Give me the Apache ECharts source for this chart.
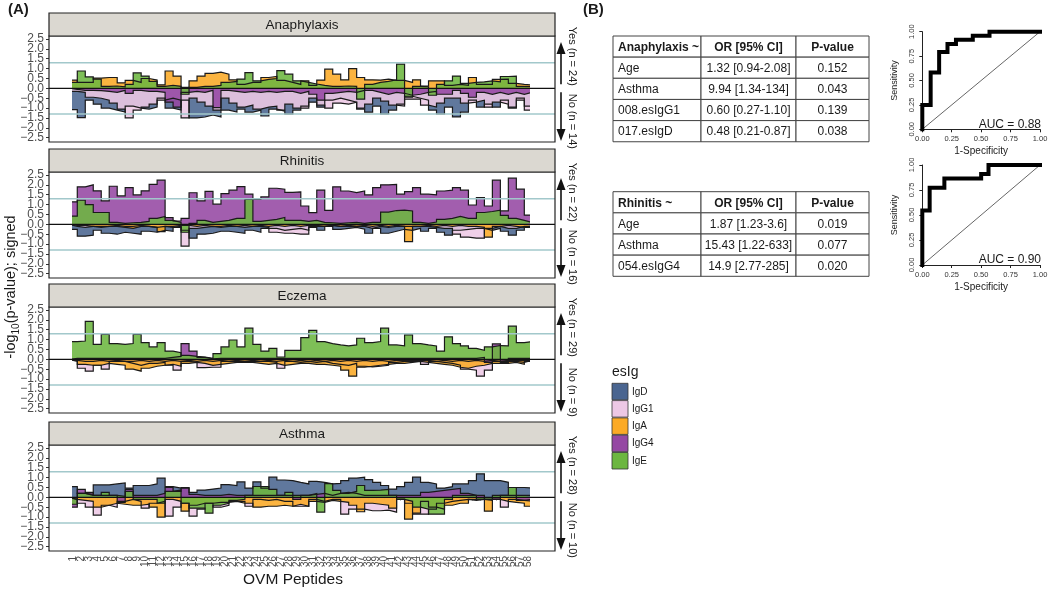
<!DOCTYPE html>
<html><head><meta charset="utf-8">
<script src="https://cdn.jsdelivr.net/npm/echarts@6/dist/echarts.min.js"></script>
<style>html,body{margin:0;padding:0;background:#fff}#c{width:1050px;height:595px}</style>
</head><body><div id="c"></div>
<script>
// ---------------- DATA ----------------
const peptides = [1,2,3,4,5,6,7,8,9,10,11,12,13,14,15,16,17,18,19,20,21,22,23,24,25,26,27,28,29,30,31,32,33,34,35,36,37,38,39,40,41,42,43,44,45,46,47,48,49,50,51,52,53,54,55,56,57,58];
const isotypes = ['IgD','IgG1','IgA','IgG4','IgE'];
const isoColors = ['#4a6590','#edc8e5','#fbaa26','#9548a3','#6cb640'];
const panelNames = ['Anaphylaxis','Rhinitis','Eczema','Asthma'];
const nYes = [24,22,29,28];
const nNo = [14,16,9,10];
const yTicks = [-2.5,-2,-1.5,-1,-0.5,0,0.5,1,1.5,2,2.5];
const threshold = 1.3;

const anaIgD = [-1.08,-1.48,-0.6,-0.8,-1.0,-1.1,-1.2,-0.9,-1.0,-1.05,
 -0.95,-0.5,-1.0,-1.1,-0.6,-1.5,-1.45,-1.35,-1.45,-1.1,
 -1.2,-1.05,-1.2,-1.1,-1.4,-1.05,-1.15,-1.3,-1.1,-0.9,
 -0.7,-0.95,-0.6,-0.5,-0.6,-0.7,-1.05,-1.2,-0.9,-1.3,
 -1.1,-0.8,-0.4,-0.5,-0.6,-1.1,-1.3,-0.95,-1.45,-1.2,
 -0.6,-0.95,-0.8,-0.95,-0.6,-1.0,-0.5,-0.9];
const anaIgG1 = [-0.15,-0.2,-0.45,-0.5,-0.6,-0.75,-1.05,-1.5,-1.1,-0.95,
 -0.8,-0.6,-0.5,-0.6,-1.5,-0.5,-0.7,-0.9,-1.1,-0.5,
 -0.75,-0.95,-0.85,-1.05,-0.95,-0.9,-1.1,-0.8,-1.0,-1.0,
 -0.5,-0.85,-1.0,-0.75,-0.8,-0.7,-1.0,-0.8,-0.5,-0.65,
 -0.85,-0.9,-0.55,-0.55,-0.85,-0.95,-0.75,-0.5,-0.5,-0.75,
 -0.7,-0.6,-0.95,-0.7,-0.8,-0.95,-0.6,-1.1];
const anaIgA = [0.42,0.3,0.3,0.52,0.55,0.55,0.28,0.4,0.3,0.5,
 0.42,0.18,0.88,0.62,0.05,0.38,0.62,0.76,0.82,0.72,
 0.43,0.2,0.3,0.3,0.55,0.6,0.4,0.3,0.2,0.38,
 0.15,0.42,0.97,0.72,0.43,1.0,0.55,0.43,0.42,0.47,
 0.4,0.4,0.3,0.43,0.12,0.38,0.38,0.15,0.2,0.15,
 0.55,0.2,0.2,0.45,0.47,0.25,0.2,0.17];
const anaIgG4 = [-0.05,-0.1,-0.1,-0.12,-0.15,-0.2,-0.1,-0.25,-0.1,-0.15,
 -0.15,-0.2,-0.7,-0.95,-0.2,-0.15,-0.2,-0.1,-0.98,-0.1,
 -0.15,-0.2,-0.15,-0.2,-0.15,-0.2,-0.15,-0.15,-0.25,-0.15,
 -0.3,-0.6,-0.25,-0.2,-0.15,-0.2,-0.1,-0.1,-0.2,-0.3,
 -0.2,-0.25,-0.35,-0.3,-0.2,-0.15,-0.3,-0.3,-0.1,-0.25,
 -0.45,-0.2,-0.3,-0.2,-0.3,-0.2,-0.3,-0.2];
const anaIgE = [0.3,0.88,0.58,0.47,0.1,0.12,0.08,0.2,0.78,0.62,
 0.35,0.1,0.15,0.1,-0.3,0.05,0.1,0.1,0.15,0.3,
 0.35,0.47,0.8,0.38,0.45,0.5,0.9,0.72,0.38,0.3,
 0.22,0.15,0.1,0.1,0.12,0.1,-0.55,0.2,0.3,0.35,
 0.43,1.23,-0.45,0.1,0.08,-0.35,0.2,0.38,0.62,0.25,
 0.3,0.33,0.38,0.33,0.6,0.62,0.1,0.08];

const rhiIgD = [-0.25,-0.6,-0.55,-0.3,-0.45,-0.5,-0.4,-0.45,-0.5,-0.35,
 -0.4,-0.3,-0.35,-0.15,-0.3,-0.7,-0.5,-0.45,-0.35,-0.35,
 -0.4,-0.45,-0.3,-0.4,-0.2,-0.2,-0.3,-0.25,-0.2,-0.3,
 -0.15,-0.3,-0.1,-0.25,-0.2,-0.15,-0.25,-0.45,-0.2,-0.45,
 -0.35,-0.25,-0.3,-0.2,-0.35,-0.2,-0.4,-0.55,-0.3,-0.25,
 -0.2,-0.2,-0.3,-0.2,-0.35,-0.55,-0.3,-0.15];
const rhiIgG1 = [-0.1,-0.15,-0.1,-0.1,-0.1,-0.05,-0.1,-0.1,-0.05,-0.1,
 -0.15,-0.1,-0.15,-0.1,-1.1,-0.2,-0.15,-0.1,-0.15,-0.1,
 -0.1,-0.15,-0.1,-0.1,-0.15,-0.4,-0.45,-0.45,-0.5,-0.5,
 -0.1,-0.1,-0.05,-0.1,-0.1,-0.1,-0.1,-0.2,-0.1,-0.15,
 -0.1,-0.1,-0.1,-0.1,-0.1,-0.15,-0.2,-0.2,-0.5,-0.65,
 -0.7,-0.7,-0.2,-0.1,-0.2,-0.2,-0.1,-0.1];
const rhiIgA = [-0.05,-0.05,-0.1,-0.15,-0.1,-0.1,-0.15,-0.2,-0.1,-0.1,
 -0.15,-0.37,-0.1,-0.05,-0.05,-0.1,-0.05,-0.1,-0.1,-0.05,
 -0.1,-0.05,-0.1,-0.05,-0.1,-0.05,-0.1,-0.05,-0.1,-0.05,
 -0.05,-0.1,-0.05,-0.1,-0.05,-0.1,-0.05,-0.1,-0.05,-0.1,
 -0.05,-0.1,-0.88,-0.1,-0.05,-0.1,-0.05,-0.1,-0.05,-0.1,
 -0.1,-0.15,-0.65,-0.1,-0.05,-0.1,-0.15,-0.1];
const rhiIgG4 = [1.14,1.9,2.0,1.7,1.19,1.93,1.44,1.86,1.49,1.7,
 2.03,2.24,0.34,0.17,0.3,1.6,1.19,1.67,1.02,1.56,
 1.73,1.91,1.53,1.27,1.39,1.83,1.78,1.62,1.65,0.93,
 0.59,1.73,0.71,1.9,1.69,1.61,1.69,1.49,1.86,2.0,
 2.03,1.53,1.66,1.86,1.53,1.49,1.69,1.73,1.86,1.73,
 0.98,1.36,0.93,2.24,0.68,2.34,1.78,0.47];
const rhiIgE = [0.42,1.22,1.0,0.6,0.6,0.1,0.05,0.08,0.1,0.15,
 0.3,0.4,0.2,0.1,-0.4,0.05,0.2,0.1,0.15,0.2,
 0.3,0.3,1.27,0.15,0.2,0.25,0.35,0.2,0.2,0.15,
 0.2,0.1,0.08,0.05,0.08,0.1,0.05,0.1,0.1,0.62,
 0.7,0.72,0.68,0.1,0.05,0.12,0.25,0.3,0.4,0.3,
 0.3,0.6,0.65,0.72,0.45,0.3,0.2,0.1];

const eczIgD = [-0.05,-0.1,-0.1,-0.05,-0.1,-0.05,-0.1,-0.1,-0.05,-0.1,
 -0.05,-0.1,-0.05,-0.1,-0.05,-0.1,-0.05,-0.1,-0.05,-0.1,
 -0.05,-0.1,-0.05,-0.1,-0.05,-0.1,-0.05,-0.1,-0.05,-0.1,
 -0.05,-0.1,-0.05,-0.1,-0.05,-0.1,-0.05,-0.1,-0.05,-0.1,
 -0.05,-0.05,-0.05,-0.05,-0.05,-0.1,-0.05,-0.1,-0.05,-0.1,
 -0.05,-0.1,-0.05,-0.1,-0.05,-0.05,-0.05,-0.05];
const eczIgG1 = [-0.05,-0.45,-0.6,-0.3,-0.5,-0.1,-0.1,-0.2,-0.3,-0.2,
 -0.2,-0.15,-0.3,-0.55,-0.1,-0.15,-0.42,-0.4,-0.4,-0.1,
 -0.1,-0.1,-0.1,-0.1,-0.1,-0.15,-0.45,-0.1,-0.15,-0.1,
 -0.15,-0.1,-0.2,-0.25,-0.3,-0.2,-0.35,-0.38,-0.35,-0.3,
 -0.15,-0.1,-0.1,-0.1,-0.25,-0.1,-0.15,-0.2,-0.3,-0.5,
 -0.55,-0.85,-0.55,-0.1,-0.1,-0.1,-0.15,-0.05];
const eczIgA = [-0.1,-0.25,-0.3,-0.3,-0.2,-0.25,-0.3,-0.5,-0.6,-0.45,
 -0.35,-0.3,-0.25,-0.35,-0.2,-0.15,-0.2,-0.3,-0.25,-0.2,
 -0.15,-0.15,-0.15,-0.2,-0.25,-0.2,-0.3,-0.25,-0.2,-0.2,
 -0.25,-0.25,-0.3,-0.35,-0.55,-0.85,-0.4,-0.35,-0.3,-0.25,
 -0.2,-0.2,-0.15,-0.1,-0.15,-0.2,-0.25,-0.3,-0.4,-0.45,
 -0.35,-0.3,-0.2,-0.2,-0.2,-0.15,-0.25,-0.1];
const eczIgG4 = [0.05,0.05,0.05,0.05,0.05,0.05,0.05,0.05,0.05,0.05,
 0.05,0.05,0.1,0.15,0.8,0.42,0.1,0.03,0.05,0.05,
 0.05,0.05,0.05,0.05,0.05,0.05,0.05,0.05,0.05,0.05,
 0.05,0.05,0.05,0.05,0.05,0.05,0.05,0.05,0.05,0.05,
 0.05,0.05,0.05,0.05,0.05,0.05,0.05,0.05,0.05,0.05,
 0.05,0.1,-0.15,0.78,-0.15,0.05,0.05,0.05];
const eczIgE = [0.9,0.93,1.92,0.76,1.27,0.8,0.76,0.8,1.27,0.85,
 0.63,0.85,0.42,0.34,0.2,0.15,0.12,0.05,0.29,0.63,
 0.98,0.63,1.58,0.76,0.42,0.56,0.12,0.45,0.45,1.1,
 1.47,0.9,0.8,0.73,0.68,0.73,1.07,0.85,0.9,1.58,
 0.73,0.68,1.24,0.8,0.73,0.68,0.42,1.14,0.8,0.68,
 0.56,0.46,0.63,0.7,0.68,1.68,0.85,0.9];

const astIgD = [0.54,0.2,0.15,0.63,0.63,0.68,0.73,0.47,0.6,0.6,
 0.68,0.97,0.54,0.47,0.47,0.25,0.37,0.42,0.47,0.64,
 0.6,0.78,0.47,0.78,0.47,1.02,0.88,0.85,0.76,0.68,
 0.81,0.76,0.68,0.71,0.85,0.97,1.02,0.9,0.76,0.6,
 0.42,0.54,0.76,1.02,0.76,0.68,0.47,0.54,0.68,0.68,
 0.85,1.19,0.85,0.85,0.76,0.5,0.5,0.47];
const astIgG1 = [-0.1,-0.3,-0.5,-0.9,-0.4,-0.5,-0.2,-0.1,-0.2,-0.55,
 -0.3,-0.2,-0.95,-0.5,-0.3,-0.95,-0.6,-0.3,-0.5,-0.4,
 -0.2,-0.2,-0.45,-0.1,-0.15,-0.1,-0.2,-0.2,-0.45,-0.45,
 -0.1,-0.2,-0.1,-0.1,-0.85,-0.6,-0.6,-0.68,-0.68,-0.65,
 -0.75,-0.1,-0.3,-0.85,-0.85,-0.6,-0.3,-0.2,-0.15,-0.1,
 -0.15,-0.1,-0.1,-0.1,-0.5,-0.1,-0.15,-0.1];
const astIgA = [-0.1,-0.15,-0.2,-0.5,-0.4,-0.3,-0.35,-0.4,-0.4,-0.35,
 -0.5,-1.0,-0.1,-0.2,-0.7,-0.4,-0.3,-0.3,-0.25,-0.25,
 -0.2,-0.3,-0.3,-0.5,-0.45,-0.45,-0.4,-0.45,-0.35,-0.45,
 -0.2,-0.25,-0.15,-0.2,-0.25,-0.4,-0.73,-0.3,-0.35,-0.4,
 -0.55,-0.1,-1.1,-0.8,-0.2,-0.5,-0.6,-0.4,-0.3,-0.3,
 -0.1,-0.1,-0.7,-0.1,-0.2,-0.25,-0.3,-0.45];
const astIgG4 = [-0.5,0.4,0.25,0.1,0.1,0.1,-0.25,0.4,0.1,0.1,
 0.1,0.2,0.5,0.3,0.5,0.15,0.1,0.1,0.1,0.15,
 0.1,0.1,0.1,0.1,0.1,0.1,0.1,0.1,-0.1,0.1,
 0.15,0.2,0.1,0.2,0.25,0.2,0.1,0.1,0.1,0.1,
 0.1,0.1,0.1,0.1,0.25,0.3,0.35,0.4,0.45,0.2,
 0.1,0.1,-0.1,-0.1,0.1,0.1,-0.15,-0.2];
const astIgE = [-0.35,0.2,0.1,0.1,0.25,0.1,0.05,0.3,-0.1,-0.1,
 -0.1,-0.3,0.3,0.37,-0.3,-0.55,-0.55,-0.8,-0.4,-0.3,
 -0.15,-0.1,0.1,0.55,0.55,0.4,0.1,0.25,0.1,0.1,
 0.2,-0.75,0.7,0.35,0.2,0.3,0.6,0.35,0.37,0.4,
 0.1,-0.1,-0.2,-0.5,-0.6,-0.85,-0.85,-0.1,0.1,0.1,
 0.1,-0.1,-0.15,0.1,0.1,0.5,0.1,0.1];

// tables
const tab1Head = ['Anaphylaxis ~','OR [95% CI]','P-value'];
const tab1Rows = [['Age','1.32 [0.94-2.08]','0.152'],['Asthma','9.94 [1.34-134]','0.043'],['008.esIgG1','0.60 [0.27-1.10]','0.139'],['017.esIgD','0.48 [0.21-0.87]','0.038']];
const tab2Head = ['Rhinitis ~','OR [95% CI]','P-value'];
const tab2Rows = [['Age','1.87 [1.23-3.6]','0.019'],['Asthma','15.43 [1.22-633]','0.077'],['054.esIgG4','14.9 [2.77-285]','0.020']];

// ROC curves (1-specificity, sensitivity)
const roc1Fpr = [0,0,0.071,0.071,0.143,0.143,0.214,0.214,0.286,0.286,0.429,0.429,0.571,0.571,1];
const roc1Tpr = [0,0.25,0.25,0.583,0.583,0.792,0.792,0.875,0.875,0.917,0.917,0.958,0.958,1,1];
const roc2Fpr = [0,0,0.0625,0.0625,0.1875,0.1875,0.5,0.5,0.5625,0.5625,1];
const roc2Tpr = [0,0.545,0.545,0.773,0.773,0.864,0.864,0.909,0.909,1,1];
const aucLabels = ['AUC = 0.88','AUC = 0.90'];

// ---------------- LAYOUT ----------------
const FONT = "'Liberation Sans', Arial, Helvetica, sans-serif";
const panelData = [
  [anaIgD, anaIgG1, anaIgA, anaIgG4, anaIgE],
  [rhiIgD, rhiIgG1, rhiIgA, rhiIgG4, rhiIgE],
  [eczIgD, eczIgG1, eczIgA, eczIgG4, eczIgE],
  [astIgD, astIgG1, astIgA, astIgG4, astIgE]
];
const PL = 49, PW = 506, SH = 23, PH = 106;     // panel box
const GL = 73.3, GW = 455;                      // data grid (peptide 1 .. 58)
const GTOP = 3, GH = 98.7;                      // grid inside panel (2.5 .. -2.5)
const stripTops = [13, 149, 284, 422];

// step outline: each peptide value held over [p-0.5, p+0.5]
function stepData(vals) {
  const pts = [[peptides[0] - 0.5, 0]];
  vals.forEach((v, i) => { pts.push([peptides[i] - 0.5, v]); pts.push([peptides[i] + 0.5, v]); });
  pts.push([peptides[peptides.length - 1] + 0.5, 0]);
  return pts;
}
const fmtMinus = v => (v < 0 ? '\u2212' : '') + Math.abs(v).toFixed(1);

const grids = [], xAxes = [], yAxes = [], series = [], graphics = [];

function T(x, y, text, o) {
  o = o || {};
  return { type: 'text', x, y, rotation: o.rot || 0, silent: true, z: 100,
    style: { text, fontSize: o.size || 12, fontFamily: FONT, fontWeight: o.weight || 'normal',
      fill: o.color || '#1a1a1a', textAlign: o.align || 'center', textVerticalAlign: o.valign || 'middle',
      align: o.align || 'center', verticalAlign: o.valign || 'middle', rich: o.rich } };
}

panelData.forEach((vals, k) => {
  const ptop = stripTops[k] + SH;
  const gtop = ptop + GTOP;
  grids.push({ left: GL, top: gtop, width: GW, height: GH, show: false, outerBoundsMode: 'none' });
  const last = k === panelData.length - 1;
  xAxes.push({ gridIndex: k, type: 'value', min: 1, max: 58, interval: 1, splitLine: { show: false },
    offset: (ptop + PH) - (gtop + GH),
    axisLine: { show: false },
    axisTick: { show: last, length: 3, lineStyle: { color: '#333', width: 1 } },
    axisLabel: { show: false } });
  yAxes.push({ gridIndex: k, type: 'value', min: -2.5, max: 2.5, interval: 0.5, splitLine: { show: false },
    offset: GL - PL,
    axisLine: { show: false },
    axisTick: { show: true, length: 3, lineStyle: { color: '#333', width: 1 } },
    axisLabel: { show: false } });
  vals.forEach((arr, j) => {
    series.push({ type: 'line', name: isotypes[j], xAxisIndex: k, yAxisIndex: k, data: stepData(arr),
      symbol: 'none', showSymbol: false, silent: true, animation: false, clip: false,
      lineStyle: { color: '#1a1a1a', width: 1.2, join: 'miter' },
      areaStyle: { color: isoColors[j], opacity: 0.88 }, itemStyle: { color: isoColors[j] } });
  });
  // panel border + strip
  graphics.push({ type: 'rect', silent: true, z: 95, shape: { x: PL, y: ptop, width: PW, height: PH },
    style: { fill: 'none', stroke: '#222', lineWidth: 1.2 } });
  graphics.push({ type: 'rect', silent: true, z: 95, shape: { x: PL, y: stripTops[k], width: PW, height: SH },
    style: { fill: '#dbd8d1', stroke: '#222', lineWidth: 1.2 } });
  graphics.push(T(PL + PW / 2, stripTops[k] + SH / 2 + 0.5, panelNames[k], { size: 13.5 }));
});

// ROC grids
const rocGrids = [{ left: 922.3, top: 31.7, width: 117.7, height: 97.6 }, { left: 922.3, top: 165, width: 117.7, height: 100 }];
const rocCurves = [[roc1Fpr, roc1Tpr], [roc2Fpr, roc2Tpr]];
rocGrids.forEach((g, r) => {
  const gi = panelData.length + r;
  grids.push(Object.assign({ outerBoundsMode: 'none', show: false }, g));
  xAxes.push({ gridIndex: gi, type: 'value', min: 0, max: 1, interval: 0.25, offset: 4, splitLine: { show: false },
    axisLine: { show: true, lineStyle: { color: '#222', width: 1 } },
    axisTick: { show: true, length: 3, lineStyle: { color: '#222' } },
    axisLabel: { fontSize: 7.5, fontFamily: FONT, color: '#333', margin: 2, formatter: v => v.toFixed(2) },
    name: '1-Specificity', nameLocation: 'middle', nameGap: 13, nameTextStyle: { fontSize: 10, fontFamily: FONT, color: '#222' } });
  yAxes.push({ gridIndex: gi, type: 'value', min: 0, max: 1, interval: 0.25, offset: 4, splitLine: { show: false },
    axisLine: { show: true, lineStyle: { color: '#222', width: 1 } },
    axisTick: { show: true, length: 3, lineStyle: { color: '#222' } },
    axisLabel: { rotate: 90, fontSize: 7.5, fontFamily: FONT, color: '#333', margin: 2, formatter: v => v.toFixed(2) },
    name: 'Sensitivity', nameLocation: 'middle', nameGap: 19, nameTextStyle: { fontSize: 9, fontFamily: FONT, color: '#222' } });
  series.push({ type: 'line', xAxisIndex: gi, yAxisIndex: gi, data: [[0, 0], [1, 1]], symbol: 'none', silent: true, animation: false,
    lineStyle: { color: '#666', width: 1 } });
  const [fx, ty] = rocCurves[r];
  series.push({ type: 'line', xAxisIndex: gi, yAxisIndex: gi, data: fx.map((v, i) => [v, ty[i]]), symbol: 'none', silent: true, animation: false, clip: false,
    lineStyle: { color: '#000', width: 4, join: 'miter', cap: 'square' } });
  graphics.push(T(g.left + g.width + 1, g.top + g.height - 5, aucLabels[r], { size: 12, align: 'right' }));
});

// tables
function table(colX, top, rowH, head, rows) {
  const all = [head].concat(rows);
  all.forEach((row, ri) => {
    row.forEach((cell, ci) => {
      const x0 = colX[ci], x1 = colX[ci + 1], y0 = top + ri * rowH;
      graphics.push({ type: 'rect', silent: true, z: 80, shape: { x: x0, y: y0, width: x1 - x0, height: rowH },
        style: { fill: '#fff', stroke: '#444', lineWidth: 1 } });
      const left = ci === 0;
      graphics.push(T(left ? x0 + 5 : (x0 + x1) / 2, y0 + rowH / 2 + 1, cell,
        { size: 12, align: left ? 'left' : 'center', weight: ri === 0 ? 'bold' : 'normal' }));
    });
  });
}
table([613, 701, 796, 869], 36, 21.15, tab1Head, tab1Rows);
table([613, 701, 796, 869], 191.7, 21.15, tab2Head, tab2Rows);

// legend
graphics.push(T(612, 372, 'esIg', { size: 14, align: 'left' }));
isotypes.forEach((name, j) => {
  const y = 383.3 + j * 17.3;
  graphics.push({ type: 'rect', silent: true, z: 80, shape: { x: 612, y, width: 16, height: 16.5 },
    style: { fill: isoColors[j], stroke: '#333', lineWidth: 0.8 } });
  graphics.push(T(632, y + 8.5, name, { size: 10, align: 'left' }));
});

// titles
graphics.push(T(8, 10, '(A)', { size: 15, weight: 'bold', align: 'left' }));
graphics.push(T(583, 10, '(B)', { size: 15, weight: 'bold', align: 'left' }));
graphics.push(T(293, 580, 'OVM Peptides', { size: 15.5 }));
graphics.push(T(11, 287, '-log{sub|10}(p-value); signed', { size: 14.5, rot: Math.PI / 2,
  rich: { sub: { fontSize: 10, fontFamily: FONT, fill: '#1a1a1a', verticalAlign: 'bottom', lineHeight: 20 } } }));

const chart = echarts.init(document.getElementById('c'), null, { renderer: 'canvas' });
chart.setOption({
  animation: false,
  backgroundColor: '#fff',
  grid: grids, xAxis: xAxes, yAxis: yAxes, series
});

// tick labels, reference lines and Yes/No annotations placed through the panels' scales
panelData.forEach((_, k) => {
  const ptop = stripTops[k] + SH;
  const yOf = v => chart.convertToPixel({ yAxisIndex: k }, v);
  yTicks.forEach(v => graphics.push(T(PL - 5, yOf(v), fmtMinus(v), { size: 12, align: 'right', color: '#4d4d4d' })));
  if (k === panelData.length - 1) {
    peptides.forEach(p => graphics.push(T(chart.convertToPixel({ xAxisIndex: k }, p), ptop + PH + 5, String(p),
      { size: 10, align: 'right', color: '#4d4d4d', rot: Math.PI / 2 })));
  }
  [threshold, -threshold].forEach(v => {
    graphics.push({ type: 'line', silent: true, z: 50, shape: { x1: PL, y1: yOf(v), x2: PL + PW, y2: yOf(v) },
      style: { stroke: '#a2c8cb', lineWidth: 1.6 } });
  });
  const zeroY = yOf(0);
  graphics.push({ type: 'line', silent: true, z: 51, shape: { x1: PL, y1: zeroY, x2: PL + PW, y2: zeroY },
    style: { stroke: '#111', lineWidth: 1.2 } });
  const ax = 561;
  graphics.push({ type: 'line', silent: true, z: 90, shape: { x1: ax, y1: zeroY - 4, x2: ax, y2: ptop + 12 }, style: { stroke: '#111', lineWidth: 1.6 } });
  graphics.push({ type: 'polygon', silent: true, z: 90, shape: { points: [[ax, ptop + 6], [ax - 4.5, ptop + 18], [ax + 4.5, ptop + 18]] }, style: { fill: '#111' } });
  graphics.push({ type: 'line', silent: true, z: 90, shape: { x1: ax, y1: zeroY + 4, x2: ax, y2: ptop + PH - 8 }, style: { stroke: '#111', lineWidth: 1.6 } });
  graphics.push({ type: 'polygon', silent: true, z: 90, shape: { points: [[ax, ptop + PH - 1], [ax - 4.5, ptop + PH - 13], [ax + 4.5, ptop + PH - 13]] }, style: { fill: '#111' } });
  graphics.push(T(572, zeroY - 32, 'Yes (n = ' + nYes[k] + ')', { size: 11, rot: -Math.PI / 2 }));
  graphics.push(T(572, zeroY + 33, 'No (n = ' + nNo[k] + ')', { size: 11, rot: -Math.PI / 2 }));
});

chart.setOption({ graphic: { elements: graphics } });
</script></body></html>
